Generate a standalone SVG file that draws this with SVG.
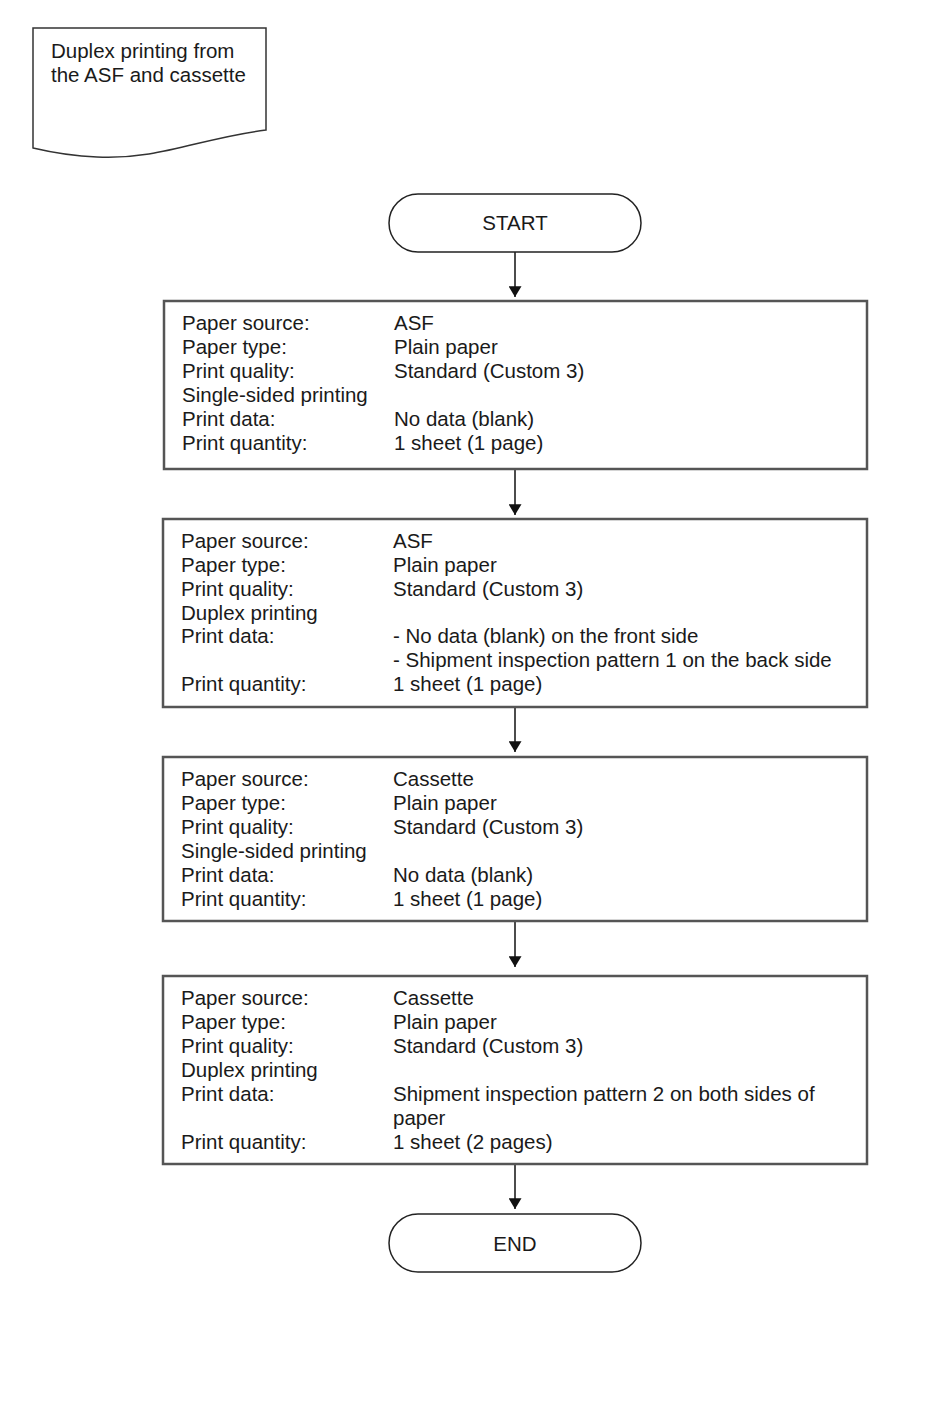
<svg xmlns="http://www.w3.org/2000/svg" width="950" height="1420" viewBox="0 0 950 1420">
<defs>
<style>
text{font-family:"Liberation Sans",Arial,sans-serif;font-size:20.5px;fill:#1a1a1a}
.box{fill:#fff;stroke:#555;stroke-width:2.5}
.term{fill:#fff;stroke:#222;stroke-width:1.5}
.doc{fill:#fff;stroke:#333;stroke-width:1.5}
.conn{stroke:#111;stroke-width:1.5;fill:none}
.c{text-anchor:middle}
</style>
<marker id="ah" viewBox="0 0 10 12" refX="10" refY="6" markerWidth="11" markerHeight="13" markerUnits="userSpaceOnUse" orient="auto">
<path d="M0,0 L10,6 L0,12 Z" fill="#111"/>
</marker>
</defs>
<rect width="950" height="1420" fill="#fff"/>

<g id="title">
<path class="doc" d="M33,28 L266,28 L266,130 C200,138 160,160 97,157 C70,156 50,152 33,148 Z"/>
<text x="51" y="58">Duplex printing from</text>
<text x="51" y="82">the ASF and cassette</text>
</g>

<g id="connectors">
<line class="conn" x1="515" y1="252" x2="515" y2="297" marker-end="url(#ah)"/>
<line class="conn" x1="515" y1="470" x2="515" y2="515" marker-end="url(#ah)"/>
<line class="conn" x1="515" y1="708" x2="515" y2="752" marker-end="url(#ah)"/>
<line class="conn" x1="515" y1="922" x2="515" y2="967" marker-end="url(#ah)"/>
<line class="conn" x1="515" y1="1165" x2="515" y2="1209" marker-end="url(#ah)"/>
</g>

<g id="start">
<rect class="term" x="389" y="194" width="252" height="58" rx="29" ry="29"/>
<text class="c" x="515" y="230">START</text>
</g>

<g id="step1">
<rect class="box" x="164" y="301" width="703" height="168"/>
<text x="182" y="330">Paper source:</text><text x="394" y="330">ASF</text>
<text x="182" y="354">Paper type:</text><text x="394" y="354">Plain paper</text>
<text x="182" y="378">Print quality:</text><text x="394" y="378">Standard (Custom 3)</text>
<text x="182" y="402">Single-sided printing</text>
<text x="182" y="426">Print data:</text><text x="394" y="426">No data (blank)</text>
<text x="182" y="450">Print quantity:</text><text x="394" y="450">1 sheet (1 page)</text>
</g>

<g id="step2">
<rect class="box" x="163" y="519" width="704" height="188"/>
<text x="181" y="548">Paper source:</text><text x="393" y="548">ASF</text>
<text x="181" y="572">Paper type:</text><text x="393" y="572">Plain paper</text>
<text x="181" y="596">Print quality:</text><text x="393" y="596">Standard (Custom 3)</text>
<text x="181" y="620">Duplex printing</text>
<text x="181" y="643">Print data:</text><text x="393" y="643">- No data (blank) on the front side</text>
<text x="393" y="667">- Shipment inspection pattern 1 on the back side</text>
<text x="181" y="691">Print quantity:</text><text x="393" y="691">1 sheet (1 page)</text>
</g>

<g id="step3">
<rect class="box" x="163" y="757" width="704" height="164"/>
<text x="181" y="786">Paper source:</text><text x="393" y="786">Cassette</text>
<text x="181" y="810">Paper type:</text><text x="393" y="810">Plain paper</text>
<text x="181" y="834">Print quality:</text><text x="393" y="834">Standard (Custom 3)</text>
<text x="181" y="858">Single-sided printing</text>
<text x="181" y="882">Print data:</text><text x="393" y="882">No data (blank)</text>
<text x="181" y="906">Print quantity:</text><text x="393" y="906">1 sheet (1 page)</text>
</g>

<g id="step4">
<rect class="box" x="163" y="976" width="704" height="188"/>
<text x="181" y="1005">Paper source:</text><text x="393" y="1005">Cassette</text>
<text x="181" y="1029">Paper type:</text><text x="393" y="1029">Plain paper</text>
<text x="181" y="1053">Print quality:</text><text x="393" y="1053">Standard (Custom 3)</text>
<text x="181" y="1077">Duplex printing</text>
<text x="181" y="1101">Print data:</text><text x="393" y="1101">Shipment inspection pattern 2 on both sides of</text>
<text x="393" y="1125">paper</text>
<text x="181" y="1149">Print quantity:</text><text x="393" y="1149">1 sheet (2 pages)</text>
</g>

<g id="end">
<rect class="term" x="389" y="1214" width="252" height="58" rx="29" ry="29"/>
<text class="c" x="515" y="1251">END</text>
</g>
</svg>
